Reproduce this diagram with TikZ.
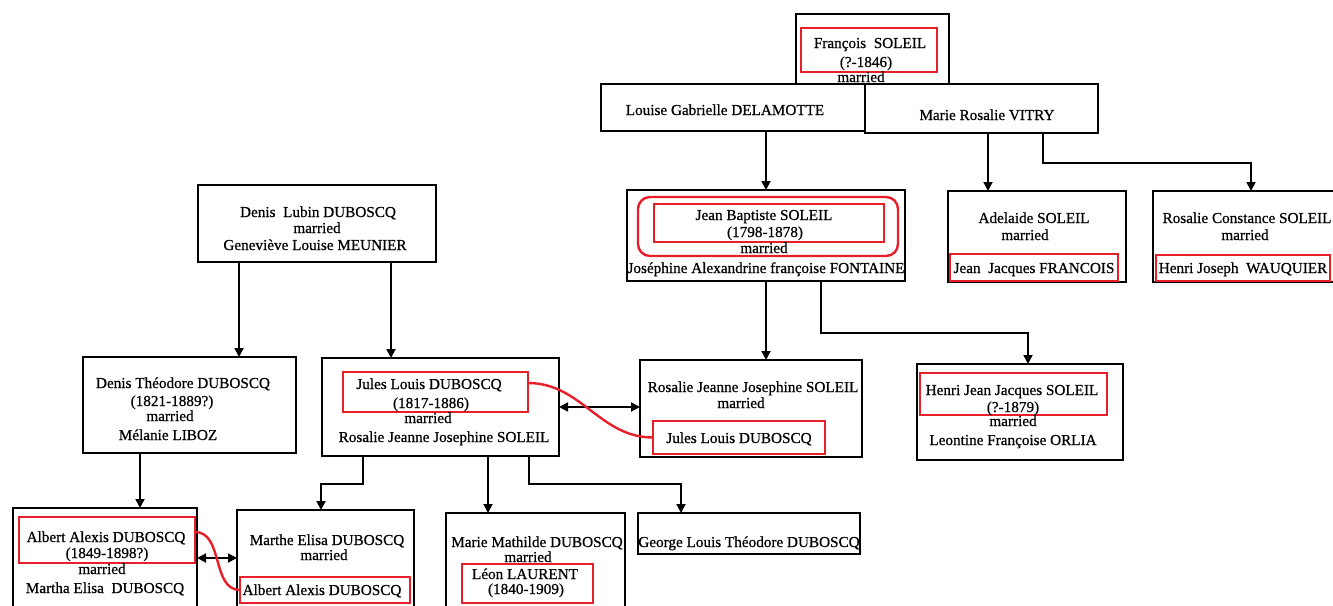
\documentclass[tikz,border=0pt]{standalone}
\usepackage{fontspec}
\setmainfont{Liberation Serif}[BoldFont=Liberation Serif, BoldFeatures={FakeBold=0.6}]
\usetikzlibrary{arrows.meta}
\definecolor{hlred}{RGB}{232,30,40}
\newcommand{\ft}{\fontsize{15.2}{17}\selectfont\bfseries}
\begin{document}
\begin{tikzpicture}[x=1pt,y=-1pt,
  pbox/.style={draw=black, line width=2pt, inner sep=0pt, outer sep=0pt, anchor=north west},
  rbox/.style={draw=hlred, line width=2.4pt, inner sep=0pt, outer sep=0pt, anchor=north west},
  txt/.style={anchor=base, inner sep=0pt, outer sep=0pt, font=\ft},
  arr/.style={draw=black, line width=1.8pt, -{Triangle[length=9pt,width=9pt]}},
  darr/.style={draw=black, line width=1.8pt, {Triangle[length=9pt,width=9pt]}-{Triangle[length=9pt,width=9pt]}},
  rcurve/.style={draw=hlred, line width=2.4pt}
]
\clip (0,0) rectangle (1333,605);
\fill[white] (0,0) rectangle (1333,605);

% boxes
\node[pbox, minimum width=153pt, minimum height=70pt] (F) at (796,14) {};
\node[rbox, minimum width=136pt, minimum height=44pt] (Fr) at (801,28) {};
\node[pbox, minimum width=264pt, minimum height=47pt] (DEL) at (601,84) {};
\node[pbox, minimum width=233pt, minimum height=49pt] (VIT) at (865,84) {};
\node[pbox, minimum width=278pt, minimum height=91pt] (JB) at (627,190) {};
\node[rbox, rounded corners=12pt, minimum width=260pt, minimum height=59pt] (JBo) at (638,197) {};
\node[rbox, minimum width=230pt, minimum height=38pt] (JBr) at (654,204) {};
\node[pbox, minimum width=178pt, minimum height=91pt] (AD) at (948,191) {};
\node[rbox, minimum width=168pt, minimum height=27pt] (ADr) at (950,254) {};
\node[pbox, minimum width=192pt, minimum height=91pt] (RC) at (1153,191) {};
\node[rbox, minimum width=174pt, minimum height=26pt] (RCr) at (1156,255) {};
\node[pbox, minimum width=238pt, minimum height=77pt] (DL) at (198,185) {};
\node[pbox, minimum width=213pt, minimum height=96pt] (DT) at (83,357) {};
\node[pbox, minimum width=237pt, minimum height=98pt] (JL) at (322,358) {};
\node[rbox, minimum width=185pt, minimum height=40pt] (JLr) at (343,372) {};
\node[pbox, minimum width=222pt, minimum height=97pt] (RJ) at (640,360) {};
\node[rbox, minimum width=172pt, minimum height=33pt] (RJr) at (653,421) {};
\node[pbox, minimum width=206pt, minimum height=96pt] (HJ) at (917,364) {};
\node[rbox, minimum width=187pt, minimum height=42pt] (HJr) at (920,373) {};
\node[pbox, minimum width=184pt, minimum height=110pt] (AA) at (13,508) {};
\node[rbox, minimum width=176pt, minimum height=46pt] (AAr) at (19,517) {};
\node[pbox, minimum width=177pt, minimum height=110pt] (ME) at (237,510) {};
\node[rbox, minimum width=170pt, minimum height=26pt] (MEr) at (240,577) {};
\node[pbox, minimum width=179pt, minimum height=110pt] (MM) at (446,513) {};
\node[rbox, minimum width=131pt, minimum height=39pt] (MMr) at (462,564) {};
\node[pbox, minimum width=222pt, minimum height=41pt] (GL) at (638,513) {};

% texts
\node[txt] (f1) at (870,48) {François~~SOLEIL};
\node[txt] (f2) at (866,67) {(?-1846)};
\node[txt] (f3) at (861,82) {married};
\node[txt] (del1) at (725,115) {Louise Gabrielle DELAMOTTE};
\node[txt] (vit1) at (987,120) {Marie Rosalie VITRY};
\node[txt] (jb1) at (764,220) {Jean Baptiste SOLEIL};
\node[txt] (jb2) at (765,237) {(1798-1878)};
\node[txt] (jb3) at (764,253) {married};
\node[txt] (jb4) at (766,273) {Joséphine Alexandrine françoise FONTAINE};
\node[txt] (ad1) at (1034,223) {Adelaide SOLEIL};
\node[txt] (ad2) at (1025,240) {married};
\node[txt] (ad3) at (1034,273) {Jean~~Jacques FRANCOIS};
\node[txt] (rc1) at (1247,223) {Rosalie Constance SOLEIL};
\node[txt] (rc2) at (1245,240) {married};
\node[txt] (rc3) at (1243,273) {Henri Joseph~~WAUQUIER};
\node[txt] (dl1) at (318,217) {Denis~~Lubin DUBOSCQ};
\node[txt] (dl2) at (317,233) {married};
\node[txt] (dl3) at (315,250) {Geneviève Louise MEUNIER};
\node[txt] (dt1) at (183,388) {Denis Théodore DUBOSCQ};
\node[txt] (dt2) at (172,406) {(1821-1889?)};
\node[txt] (dt3) at (170,421) {married};
\node[txt] (dt4) at (168,440) {Mélanie LIBOZ};
\node[txt] (jl1) at (429,389) {Jules Louis DUBOSCQ};
\node[txt] (jl2) at (431,408) {(1817-1886)};
\node[txt] (jl3) at (428,423) {married};
\node[txt] (jl4) at (444,442) {Rosalie Jeanne Josephine SOLEIL};
\node[txt] (rj1) at (753,392) {Rosalie Jeanne Josephine SOLEIL};
\node[txt] (rj2) at (741,408) {married};
\node[txt] (rj3) at (739,443) {Jules Louis DUBOSCQ};
\node[txt] (hj1) at (1012,395) {Henri Jean Jacques SOLEIL};
\node[txt] (hj2) at (1013,412) {(?-1879)};
\node[txt] (hj3) at (1013,426) {married};
\node[txt] (hj4) at (1013,445) {Leontine Françoise ORLIA};
\node[txt] (aa1) at (106,542) {Albert Alexis DUBOSCQ};
\node[txt] (aa2) at (107,558) {(1849-1898?)};
\node[txt] (aa3) at (102,574) {married};
\node[txt] (aa4) at (105,593) {Martha Elisa~~DUBOSCQ};
\node[txt] (me1) at (327,545) {Marthe Elisa DUBOSCQ};
\node[txt] (me2) at (324,560) {married};
\node[txt] (me3) at (322,595) {Albert Alexis DUBOSCQ};
\node[txt] (mm1) at (537,547) {Marie Mathilde DUBOSCQ};
\node[txt] (mm2) at (528,562) {married};
\node[txt] (mm3) at (525,579) {Léon LAURENT};
\node[txt] (mm4) at (526,594) {(1840-1909)};
\node[txt] (gl1) at (749,547) {George Louis Théodore DUBOSCQ};

% connectors
\draw[arr] (DEL.south -| JB.north) -- (JB.north);
\draw[arr] ([xshift=40pt]AD.north west |- VIT.south) -- ([xshift=40pt]AD.north west);
\draw[arr] ([xshift=178pt]VIT.south west) -- ++(0,30) -| ([xshift=98pt]RC.north west);
\draw[arr] ([xshift=139pt]JB.south west) -- ([xshift=126pt]RJ.north west);
\draw[arr] ([xshift=194pt]JB.south west) -- ++(0,52) -| ([xshift=111pt]HJ.north west);
\draw[arr] ([xshift=41pt]DL.south west) -- ([xshift=156pt]DT.north west);
\draw[arr] ([xshift=193pt]DL.south west) -- ([xshift=69pt]JL.north west);
\draw[arr] ([xshift=57pt]DT.south west) -- ([xshift=127pt]AA.north west);
\draw[arr] ([xshift=41pt]JL.south west) -- ++(0,28) -| ([xshift=84pt]ME.north west);
\draw[arr] ([xshift=166pt]JL.south west) -- ([xshift=42pt]MM.north west);
\draw[arr] ([xshift=207pt]JL.south west) -- ++(0,28) -| ([xshift=43pt]GL.north west);
\draw[darr] (JL.east) -- (JL.east -| RJ.west);
\draw[darr] ([yshift=-50pt]AA.north east) -- ([yshift=-50pt]AA.north east -| ME.west);
\draw[rcurve] ([yshift=-11pt]JLr.north east) to[out=0,in=180] (RJr.west);
\draw[rcurve] ([yshift=-15pt]AAr.north east) to[out=0,in=180] (MEr.west);
\end{tikzpicture}
\end{document}
